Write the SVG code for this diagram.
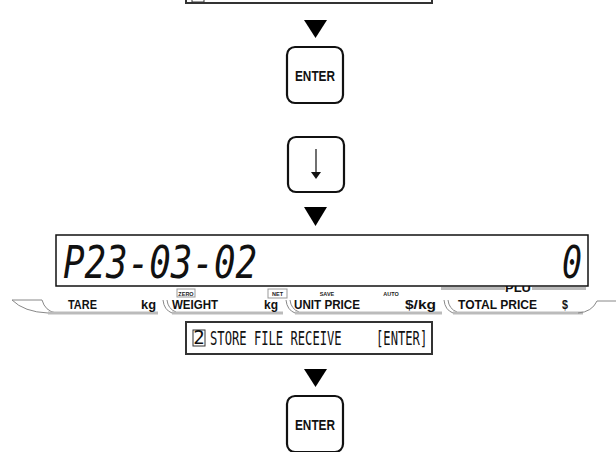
<svg xmlns="http://www.w3.org/2000/svg" width="616" height="452" viewBox="0 0 616 452">
<style>
.box{fill:#fff;stroke:#333;stroke-width:2}
.key{fill:#fff;stroke:#111;stroke-width:2.2}
.keytxt{font-family:"Liberation Sans",Arial,sans-serif;font-weight:bold;font-size:14.5px;fill:#111}
.tri{fill:#000}
.lbl{font-family:"Liberation Sans",Arial,sans-serif;font-weight:bold;font-size:13px;fill:#111}
.sml{font-family:"Liberation Sans",Arial,sans-serif;font-weight:bold;font-size:5.5px;fill:#222}
.seg{font-family:"DejaVu Sans Mono",monospace;font-style:italic;font-size:45px;fill:#111}
.msg{font-family:"DejaVu Sans Mono","Liberation Mono",monospace;font-size:19px;fill:#111}
.gray{stroke:#bbb;stroke-width:3;fill:none}
.arc{stroke:#888;stroke-width:1;fill:none}
</style>

<g id="top-message">
  <rect class="box" x="186" y="-30" width="246" height="33"/>
  <rect x="192" y="-14" width="12" height="16" fill="none" stroke="#333" stroke-width="1"/>
</g>

<g id="connectors">
  <polygon class="tri" points="304,20 327,20 315.5,38"/>
  <polygon class="tri" points="304,207 327,207 315.5,226"/>
  <polygon class="tri" points="304,369 327,369 315.5,387"/>
</g>

<g id="enter-key-1">
  <rect class="key" x="287" y="47" width="56" height="56" rx="8"/>
  <text class="keytxt" x="315" y="81" text-anchor="middle" textLength="40" lengthAdjust="spacingAndGlyphs">ENTER</text>
</g>

<g id="down-key">
  <rect class="key" x="288" y="137" width="56" height="55" rx="8"/>
  <line x1="316" y1="149" x2="316" y2="174" stroke="#111" stroke-width="1.2"/>
  <polygon points="311,172 321,172 316,179" fill="#111"/>
</g>

<g id="display">
  <text x="518" y="292" text-anchor="middle" class="lbl" font-size="11">PLU</text>
  <line x1="441" y1="288.5" x2="505" y2="288.5" class="gray" stroke-width="2.5"/>
  <line x1="532" y1="288.5" x2="586" y2="288.5" class="gray" stroke-width="2.5"/>
  <rect x="56" y="235" width="532" height="51" fill="#fff" stroke="#111" stroke-width="1.5"/>
  <text class="seg" x="63" y="278" textLength="194" lengthAdjust="spacingAndGlyphs">P23-03-02</text>
  <text class="seg" x="562" y="278" textLength="20" lengthAdjust="spacingAndGlyphs">0</text>

  <path class="arc" d="M12,300 L42,300 Q45,311 56,313"/>
  <path class="arc" d="M12,300 Q24,312 48,313"/>
  <line class="gray" x1="48" y1="313" x2="158" y2="313"/>
  <path class="arc" d="M163,300 Q164,310 172,313"/>
  <path class="arc" d="M167,300 Q168,309 176,312"/>
  <line class="gray" x1="172" y1="313" x2="283" y2="313"/>
  <path class="arc" d="M286,300 Q287,310 295,313"/>
  <path class="arc" d="M290,300 Q291,309 299,312"/>
  <line class="gray" x1="295" y1="313" x2="442" y2="313"/>
  <path class="arc" d="M444,300 Q445,310 453,313"/>
  <path class="arc" d="M448,300 Q449,309 457,312"/>
  <line class="gray" x1="453" y1="313" x2="583" y2="313"/>
  <path class="arc" d="M578,313 Q592,312 597,301 L616,301"/>

  <text class="lbl" x="68" y="309" textLength="29" lengthAdjust="spacingAndGlyphs">TARE</text>
  <text class="lbl" x="141" y="309" textLength="15" lengthAdjust="spacingAndGlyphs">kg</text>
  <text class="lbl" x="172" y="309" textLength="46" lengthAdjust="spacingAndGlyphs">WEIGHT</text>
  <text class="lbl" x="264" y="309" textLength="14" lengthAdjust="spacingAndGlyphs">kg</text>
  <text class="lbl" x="294" y="309" textLength="66" lengthAdjust="spacingAndGlyphs">UNIT PRICE</text>
  <text class="lbl" x="405" y="309" textLength="31" lengthAdjust="spacingAndGlyphs">$/kg</text>
  <text class="lbl" x="458" y="309" textLength="79" lengthAdjust="spacingAndGlyphs">TOTAL PRICE</text>
  <text class="lbl" x="562" y="309" textLength="6" lengthAdjust="spacingAndGlyphs">$</text>

  <rect x="177" y="289" width="18" height="8" fill="none" stroke="#999" stroke-width="1"/>
  <text class="sml" x="186" y="295.5" text-anchor="middle">ZERO</text>
  <rect x="268" y="289" width="19" height="9" fill="none" stroke="#999" stroke-width="1"/>
  <text class="sml" x="277.5" y="296" text-anchor="middle">NET</text>
  <text class="sml" x="327" y="296" text-anchor="middle">SAVE</text>
  <text class="sml" x="391" y="296" text-anchor="middle">AUTO</text>
</g>

<g id="store-message">
  <rect class="box" x="186" y="322" width="246" height="32"/>
  <rect x="193" y="330" width="12" height="16" fill="none" stroke="#333" stroke-width="1"/>
  <text class="msg" x="199" y="344" text-anchor="middle" font-size="14">2</text>
  <text class="msg" transform="translate(210,345) scale(0.64,1)" x="0" y="0">STORE FILE RECEIVE</text>
  <text class="msg" transform="translate(376,345) scale(0.64,1)" x="0" y="0">[ENTER]</text>
</g>

<g id="enter-key-2">
  <rect class="key" x="287" y="396" width="56" height="56" rx="8"/>
  <text class="keytxt" x="315" y="430" text-anchor="middle" textLength="40" lengthAdjust="spacingAndGlyphs">ENTER</text>
</g>
</svg>
